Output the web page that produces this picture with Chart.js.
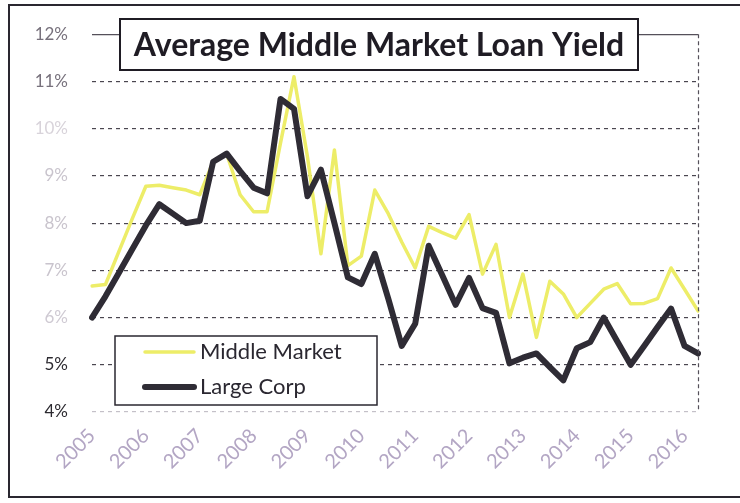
<!DOCTYPE html>
<html>
<head>
<meta charset="utf-8">
<script src="https://cdn.jsdelivr.net/npm/chart.js@4/dist/chart.umd.min.js"></script>
<style>
  html, body { margin: 0; padding: 0; background: #fff; }
  #wrap { width: 740px; height: 503px; }
</style>
</head>
<body>
<div id="wrap"><canvas id="myChart" width="740" height="503"></canvas></div>
<script>
// quarterly yields, 2005 Q1 .. 2016 Q2
const years = ["2005","2006","2007","2008","2009","2010","2011","2012","2013","2014","2015","2016"];
const quarters = ["Q1","Q2","Q3","Q4"];
const lastQuarterCount = 2; // 2016 runs to Q2

const middleMarket = [
  6.67, 6.70, 7.40, 8.10, 8.78, 8.80, 8.75, 8.70, 8.60, 9.30,
  9.47, 8.60, 8.24, 8.24, 9.70, 11.10, 9.40, 7.35, 9.55, 7.10,
  7.30, 8.70, 8.20, 7.60, 7.05, 7.93, 7.80, 7.68, 8.18, 6.92,
  7.55, 6.00, 6.92, 5.58, 6.77, 6.50, 6.00, 6.30, 6.60, 6.72,
  6.29, 6.30, 6.40, 7.05, 6.60, 6.14
];
const largeCorp = [
  6.00, 6.45, 6.95, 7.45, 7.95, 8.40, 8.20, 8.00, 8.05, 9.30,
  9.47, 9.10, 8.75, 8.63, 10.63, 10.42, 8.57, 9.13, 8.00, 6.85,
  6.71, 7.35, 6.40, 5.40, 5.87, 7.52, 6.90, 6.27, 6.84, 6.20,
  6.10, 5.03, 5.15, 5.24, 4.95, 4.67, 5.35, 5.48, 6.00, 5.50,
  5.00, 5.40, 5.80, 6.19, 5.40, 5.24
];
const yTicks = [4, 5, 6, 7, 8, 9, 10, 11, 12];
const chartTitle = "Average Middle Market Loan Yield";

const labels = [];
years.forEach((y, i) => {
  const n = i === years.length - 1 ? lastQuarterCount : 4;
  for (let q = 0; q < n; q++) labels.push(y + " " + quarters[q]);
});

// faded tick text, as printed
const yTickColors = { 4: "#2c2a30", 5: "#2c2a30", 6: "#cfcad3", 7: "#c9c4cd", 8: "#c9c4cd", 9: "#c9c4cd", 10: "#d8d3da", 11: "#77717c", 12: "#77717c" };

const decorations = {
  id: "decorations",
  beforeDraw(chart) {
    const ctx = chart.ctx;
    ctx.save();
    ctx.fillStyle = "#fff";
    ctx.fillRect(0, 0, chart.width, chart.height);
    ctx.restore();
  },
  afterDatasetsDraw(chart) {
    const ctx = chart.ctx;
    const a = chart.chartArea;
    ctx.save();

    // plot frame: top and right edges
    ctx.strokeStyle = "#55505a";
    ctx.lineWidth = 1.2;
    ctx.beginPath();
    ctx.moveTo(a.left, a.top + 0.5);
    ctx.lineTo(a.right, a.top + 0.5);
    ctx.stroke();
    ctx.setLineDash([4, 3]);
    ctx.beginPath();
    ctx.moveTo(a.right + 0.5, a.top);
    ctx.lineTo(a.right + 0.5, a.bottom);
    ctx.stroke();
    ctx.setLineDash([]);

    // outer frame
    ctx.strokeStyle = "#2a2730";
    ctx.lineWidth = 2;
    ctx.strokeRect(9, 5, 760, 492);

    // title box
    ctx.fillStyle = "#fff";
    ctx.fillRect(120, 19, 518, 51);
    ctx.strokeStyle = "#1f1c24";
    ctx.lineWidth = 2;
    ctx.strokeRect(120, 19, 518, 51);
    let size = 40;
    ctx.font = "bold " + size + "px Lato";
    while (ctx.measureText(chartTitle).width > 496 && size > 10) {
      size -= 0.5;
      ctx.font = "bold " + size + "px Lato";
    }
    ctx.fillStyle = "#1f1c24";
    ctx.textAlign = "center";
    ctx.textBaseline = "middle";
    ctx.fillText(chartTitle, 379, 46);

    // legend box
    ctx.fillStyle = "#fff";
    ctx.fillRect(115, 336, 262, 69);
    ctx.strokeStyle = "#2a2730";
    ctx.lineWidth = 1.5;
    ctx.strokeRect(115, 336, 262, 69);
    const rows = [352, 387];
    chart.data.datasets.forEach((ds, i) => {
      const y = rows[i];
      ctx.strokeStyle = ds.borderColor;
      ctx.lineWidth = ds.borderWidth;
      ctx.lineCap = "round";
      ctx.beginPath();
      ctx.moveTo(145, y);
      ctx.lineTo(194, y);
      ctx.stroke();
      ctx.fillStyle = "#2a2730";
      ctx.font = "22px Lato";
      ctx.textAlign = "left";
      ctx.textBaseline = "middle";
      ctx.fillText(ds.label, 200, y);
    });
    ctx.restore();
  }
};

new Chart(document.getElementById("myChart"), {
  type: "line",
  data: {
    labels: labels,
    datasets: [
      {
        label: "Middle Market",
        data: middleMarket,
        borderColor: "#eded68",
        borderWidth: 3.5,
        order: 2
      },
      {
        label: "Large Corp",
        data: largeCorp,
        borderColor: "#2f2c35",
        borderWidth: 6,
        order: 1
      }
    ]
  },
  options: {
    responsive: false,
    maintainAspectRatio: false,
    animation: false,
    layout: { padding: { left: 0, top: 32, right: 42, bottom: 0 } },
    elements: {
      point: { radius: 0 },
      line: { tension: 0, borderJoinStyle: "round", borderCapStyle: "round" }
    },
    plugins: {
      legend: { display: false },
      title: { display: false },
      tooltip: { enabled: false }
    },
    scales: {
      x: {
        offset: false,
        grid: { display: false, drawTicks: false },
        border: { display: false },
        afterFit: s => { s.height = 91; },
        ticks: {
          autoSkip: false,
          maxRotation: 45,
          minRotation: 45,
          padding: 12,
          color: "#b3a6c4",
          font: { family: "Lato", size: 20 },
          callback: (v, i) => (i % 4 === 0 ? years[i / 4] : "")
        }
      },
      y: {
        min: 4,
        max: 12,
        afterFit: s => { s.width = 92; },
        afterBuildTicks: s => { s.ticks = yTicks.map(v => ({ value: v })); },
        grid: {
          drawTicks: false,
          lineWidth: 1.2,
          color: c => (c.tick && c.tick.value === 4 ? "#c4c0c8" : c.tick && c.tick.value === 12 ? "rgba(0,0,0,0)" : "#4a4650")
        },
        border: { display: false, dash: [4, 4] },
        ticks: {
          padding: 24,
          font: { family: "Lato", size: 17 },
          color: c => yTickColors[c.tick.value] || "#444",
          callback: v => v + "%"
        }
      }
    }
  },
  plugins: [decorations]
});
</script>
</body>
</html>
